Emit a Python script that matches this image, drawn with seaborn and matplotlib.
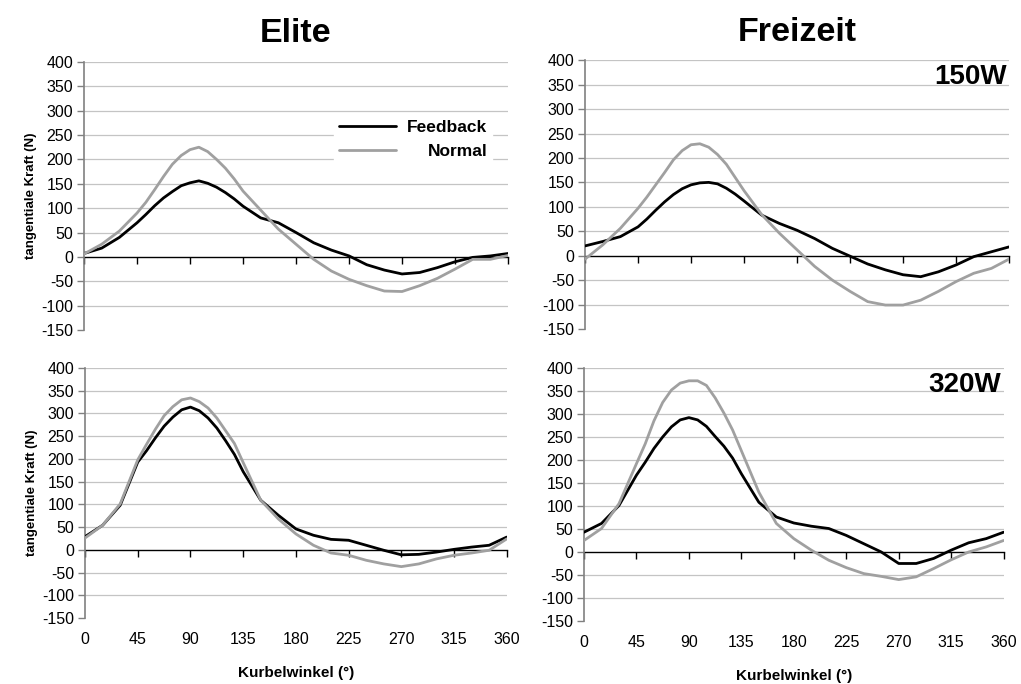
# Tangentiale Kraft ueber Kurbelwinkel - Elite vs Freizeit, 150W / 320W

import numpy as np
import pandas as pd
import seaborn as sns
import matplotlib
matplotlib.use('Agg')
import matplotlib.pyplot as plt

# Kurbelwinkel (deg)
angle = [0, 15, 30, 45, 52.5, 60, 67.5, 75, 82.5, 90, 97.5, 105, 112.5, 120, 127.5, 135,
         150, 165, 180, 195, 210, 225, 240, 255, 270, 285, 300, 315, 330, 345, 360]

# Elite 150W
elite_150_feedback = [7, 18, 40, 70, 87, 105, 121, 134, 146, 152, 156, 151, 143, 132, 119, 104,
                      80, 70, 50, 29, 14, 2, -16, -27, -35, -32, -22, -10, -1, 2, 7]
elite_150_normal = [6, 26, 53, 90, 112, 138, 165, 190, 208, 220, 225, 216, 200, 182, 160, 135,
                    96, 57, 26, -5, -29, -46, -59, -70, -71, -59, -44, -25, -5, -5, 3]

# Freizeit 150W
frei_150_feedback = [20, 29, 39, 59, 75, 93, 110, 125, 137, 145, 149, 150, 147, 138, 126, 112,
                     83, 66, 52, 35, 15, -1, -17, -29, -39, -43, -33, -19, -2, 8, 18]
frei_150_normal = [-7, 22, 56, 97, 120, 145, 170, 196, 215, 227, 229, 222, 207, 187, 160, 133,
                   84, 46, 12, -22, -50, -73, -94, -101, -101, -91, -73, -53, -36, -26, -7]

# Elite 320W
elite_320_feedback = [29, 54, 98, 193, 218, 246, 272, 292, 308, 314, 306, 290, 268, 240, 210, 172,
                      109, 76, 46, 32, 23, 21, 10, -1, -11, -10, -5, 1, 6, 10, 28]
elite_320_normal = [26, 54, 101, 198, 232, 265, 295, 315, 330, 334, 326, 312, 290, 262, 234, 192,
                    109, 68, 35, 10, -7, -12, -23, -31, -37, -31, -20, -12, -7, -1, 24]

# Freizeit 320W
frei_320_feedback = [43, 62, 101, 167, 195, 225, 250, 272, 287, 292, 287, 273, 251, 230, 204, 170,
                     108, 76, 63, 56, 51, 36, 18, 0, -25, -25, -14, 4, 20, 29, 43]
frei_320_normal = [25, 51, 105, 192, 235, 285, 325, 352, 367, 372, 372, 362, 335, 302, 265, 220,
                   130, 62, 29, 4, -18, -34, -47, -53, -60, -54, -36, -17, 0, 11, 25]

series_names = ['Feedback', 'Normal']
group_titles = ['Elite', 'Freizeit']
power_labels = ['150W', '320W']
x_ticks = [0, 45, 90, 135, 180, 225, 270, 315, 360]
y_ticks = [-150, -100, -50, 0, 50, 100, 150, 200, 250, 300, 350, 400]


def make_df(fb, nm):
    return pd.DataFrame({
        'Kurbelwinkel': angle * 2,
        'Kraft': fb + nm,
        'Serie': [series_names[0]] * len(angle) + [series_names[1]] * len(angle),
    })


panels = [
    [make_df(elite_150_feedback, elite_150_normal), make_df(frei_150_feedback, frei_150_normal)],
    [make_df(elite_320_feedback, elite_320_normal), make_df(frei_320_feedback, frei_320_normal)],
]

sns.set_style('white')
plt.rcParams['font.family'] = ['Liberation Sans', 'DejaVu Sans']
plt.rcParams['text.color'] = 'black'
plt.rcParams['axes.labelcolor'] = 'black'
plt.rcParams['xtick.color'] = 'black'
plt.rcParams['ytick.color'] = 'black'
plt.rcParams['axes.unicode_minus'] = False

fig = plt.figure(figsize=(10.21, 6.84), dpi=100)

# axes rectangles (left, bottom, width, height) in figure fraction
rects = [
    [[0.0823, 0.5175, 0.4153, 0.392], [0.573, 0.519, 0.4153, 0.393]],
    [[0.0833, 0.0965, 0.413, 0.3655], [0.572, 0.0921, 0.411, 0.370]],
]

palette = {'Feedback': '#000000', 'Normal': '#a0a0a0'}

for r in range(2):
    for c in range(2):
        ax = fig.add_axes(rects[r][c])
        df = panels[r][c]
        sns.lineplot(data=df, x='Kurbelwinkel', y='Kraft', hue='Serie',
                     palette=palette, linewidth=2.0, ax=ax, legend=(r == 0 and c == 0),
                     zorder=3)
        ax.set_xlim(0, 360)
        ax.set_ylim(-150, 400)
        ax.set_yticks(y_ticks)
        ax.set_xticks(x_ticks)

        # horizontal gridlines
        for yv in y_ticks:
            if yv not in (-150, 0):
                ax.axhline(yv, color='#c4c4c4', linewidth=0.9, zorder=1)

        for s in ['top', 'right']:
            ax.spines[s].set_visible(False)
        ax.spines['left'].set_color('#808080')
        ax.spines['left'].set_linewidth(1.2)
        ax.spines['bottom'].set_position(('data', 0))
        ax.spines['bottom'].set_color('black')
        ax.spines['bottom'].set_linewidth(1.0)
        ax.spines['bottom'].set_zorder(2)
        ax.tick_params(axis='y', left=True, direction='out', length=5, width=1,
                       color='#808080', labelsize=11.5, pad=3)
        ax.tick_params(axis='x', bottom=True, direction='out', length=5, width=1,
                       color='black', labelbottom=False)

        ax.set_xlabel('')
        if c == 0:
            ax.set_ylabel('tangentiale Kraft (N)', fontsize=9.5, fontweight='bold', labelpad=3)
        else:
            ax.set_ylabel('')

        if r == 0:
            ax.set_title(group_titles[c], fontsize=24.5, fontweight='bold', pad=14)

        if c == 1:
            ax.text(0.995, 0.985, power_labels[r], transform=ax.transAxes,
                    ha='right', va='top', fontsize=20, fontweight='bold')

        if r == 1:
            sec = ax.secondary_xaxis('bottom')
            sec.set_xticks(x_ticks)
            sec.spines['bottom'].set_visible(False)
            sec.tick_params(length=0, labelsize=11.5, pad=10)
            sec.set_xlabel('Kurbelwinkel (°)', fontsize=11, fontweight='bold', labelpad=14)

        if r == 0 and c == 0:
            leg = ax.legend(loc='upper right', bbox_to_anchor=(0.962, 0.80), frameon=True,
                            handlelength=3.3, handletextpad=0.65, borderpad=0.25,
                            labelspacing=0.5, prop={'weight': 'bold', 'size': 12.5},
                            borderaxespad=0)
            leg.get_frame().set_edgecolor('white')
            leg.get_frame().set_facecolor('white')
            leg.get_frame().set_alpha(1)
            leg.set_zorder(4)
            # right-align the legend labels
            fig.canvas.draw()
            texts = leg.get_texts()
            widths = [t.get_window_extent().width for t in texts]
            wmax = max(widths)
            for t, w in zip(texts, widths):
                t.set_position((wmax - w, 0))

fig.savefig('out.png', dpi=100)
